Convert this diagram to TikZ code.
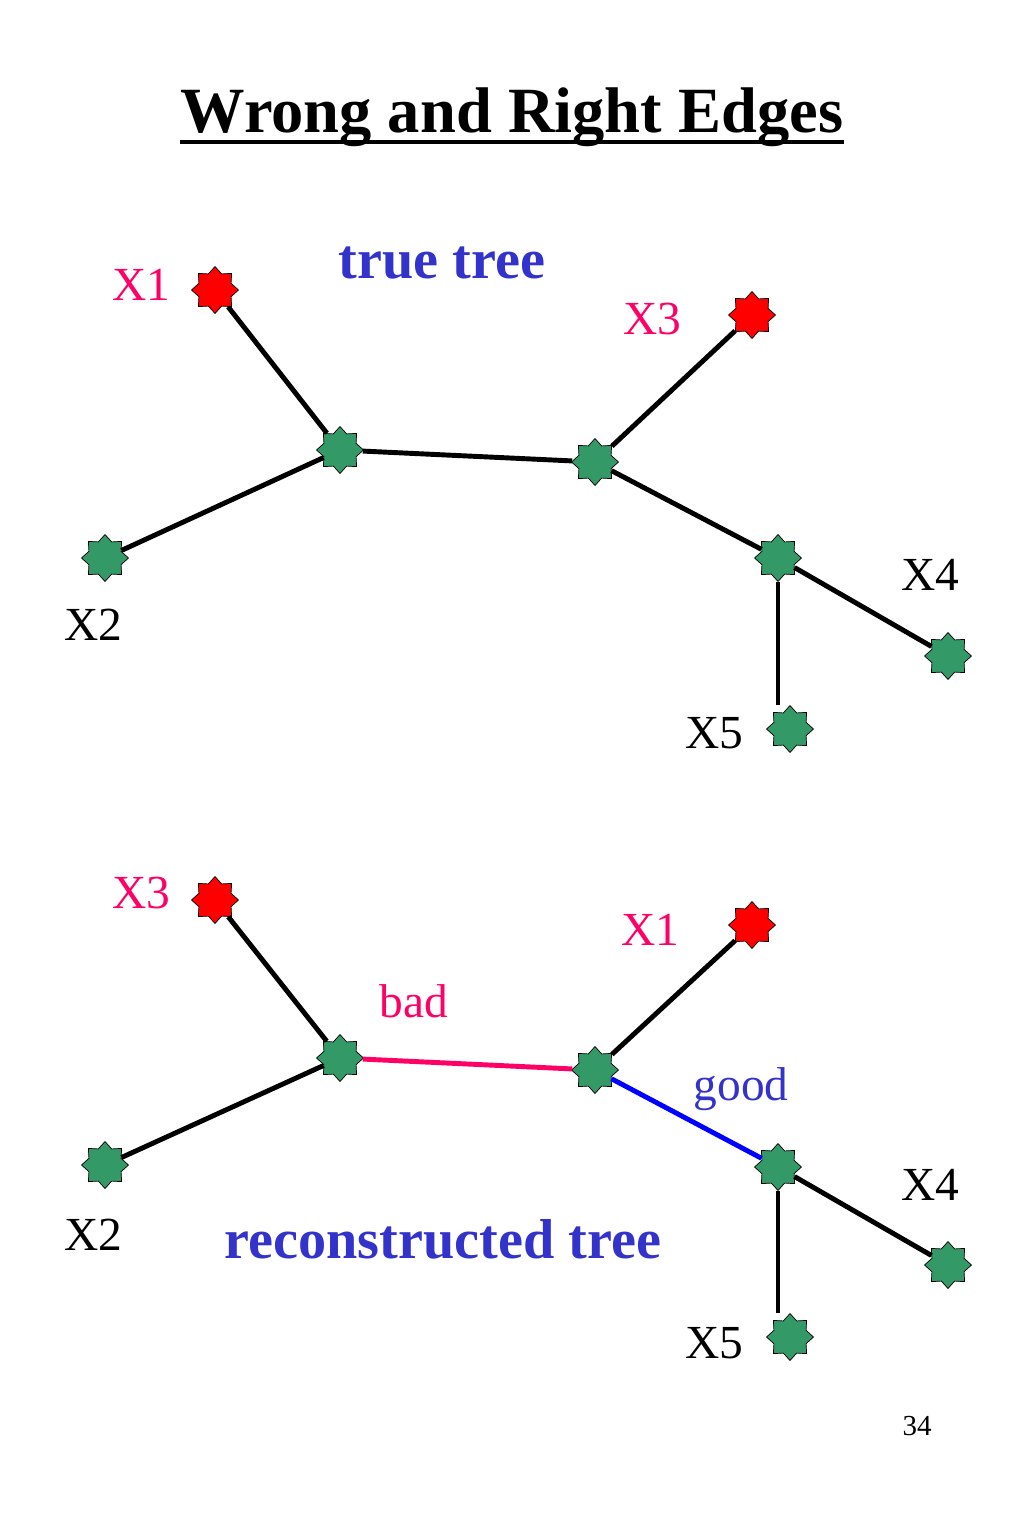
\documentclass[tikz,border=0pt]{standalone}
\usepackage{fontspec}
\setmainfont{Liberation Serif}
\usetikzlibrary{shapes.geometric}
\usetikzlibrary{positioning}
\definecolor{leafred}{rgb}{1,0,0}
\definecolor{inner}{rgb}{0.2,0.6,0.4}
\definecolor{hotpink}{rgb}{1,0,0.4}
\definecolor{textblue}{rgb}{0.2,0.2,0.8}

\begin{document}
\begin{tikzpicture}[x=0.2mm, y=-0.2mm,
leaf/.style ={shape=star, star points=8, star point ratio=1.35, minimum size=9.4mm, inner sep=0pt, draw=black, thin, fill=leafred},
vert/.style ={shape=star, star points=8, star point ratio=1.35, minimum size=9.4mm, inner sep=0pt, draw=black, thin, fill=inner},
edge/.style ={line width=2.8pt, black},
lbl/.style ={anchor=base, inner sep=0pt, font=\fontsize{27}{30}\selectfont},
big/.style ={anchor=base, inner sep=0pt, text=textblue, font=\fontsize{32}{36}\selectfont\bfseries}]
\useasboundingbox (0,0) rectangle (1024,1536);
% title
\node[anchor=base, inner sep=0pt, font=\fontsize{36.7}{40}\selectfont\bfseries] (title) at (512,132) {Wrong and Right Edges};
\draw[line width=2.3pt] ([yshift=-2mm]title.base west) -- ([yshift=-2mm]title.base east);

% true tree
\node[big] (tt) at (442,278) {true tree};
\node[leaf] (x1) at (215,290) {};
\node[vert] (a) at (340,450) {};
\node[vert] (b) at (595,462) {};
\node[leaf] (x3) at (752,315) {};
\node[vert] (c) at (778,558) {};
\node[vert] (x4) at (948,656) {};
\node[vert] (x5) at (790,729) {};
\node[vert] (x2) at (105,558) {};
\node[lbl, text=hotpink] at (141,300) {X1};
\node[lbl, text=hotpink] at (652,334) {X3};
\node[lbl] at (930,590) {X4};
\node[lbl] at (714,748) {X5};
\node[lbl] at (93,640) {X2};
\draw[edge] (x1) -- (a);
\draw[edge] (x2) -- (a);
\draw[edge] (a) -- (b);
\draw[edge] (b) -- (x3);
\draw[edge] (b) -- (c);
\draw[edge] (c) -- (x4);
\draw[edge] (c) -- (c |- x5.north);

% reconstructed tree
\node[leaf] (y3) at (215,900) {};
\node[vert] (p) at (340,1058) {};
\node[vert] (q) at (595,1070) {};
\node[leaf] (y1) at (752,925) {};
\node[vert] (r) at (778,1167) {};
\node[vert] (y4) at (948,1265) {};
\node[vert] (y5) at (790,1337) {};
\node[vert] (y2) at (105,1165) {};
\node[lbl, text=hotpink] at (141,908) {X3};
\node[lbl, text=hotpink] at (650,945) {X1};
\node[lbl] at (930,1200) {X4};
\node[lbl] at (714,1358) {X5};
\node[lbl] at (93,1250) {X2};
\node[lbl, text=hotpink] at (414,1017) {bad};
\node[lbl, text=textblue] at (741,1100) {good};
\node[big] (rt) at (443,1258) {reconstructed tree};
\draw[edge] (y3) -- (p);
\draw[edge] (y2) -- (p);
\draw[edge, hotpink] (p) -- (q);
\draw[edge] (q) -- (y1);
\draw[edge, blue] (q) -- (r);
\draw[edge] (r) -- (y4);
\draw[edge] (r) -- (r |- y5.north);

\node[anchor=base, inner sep=0pt, font=\fontsize{16.5}{18}\selectfont] (pg) at (917,1435) {34};
\end{tikzpicture}
\end{document}
